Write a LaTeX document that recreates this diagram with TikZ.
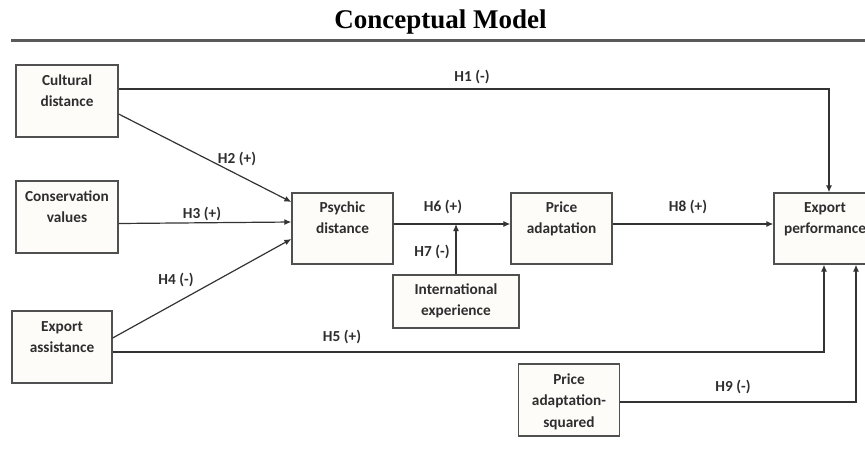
\documentclass[tikz,border=0pt]{standalone}
\usepackage{fontspec}
\setmainfont{Carlito}
\newfontfamily\titlefont{Liberation Serif}
\usetikzlibrary{arrows.meta}

\definecolor{boxline}{HTML}{505050}
\definecolor{boxfill}{HTML}{FDFCF9}
\definecolor{linkcol}{HTML}{333333}
\definecolor{inkcol}{HTML}{2E2E2E}
\definecolor{rulecol}{HTML}{5A5A5A}

\tikzset{
  varbox/.style={draw=boxline, fill=boxfill, line width=1.3pt, inner sep=0pt,
    minimum width=101pt, minimum height=71pt},
  % base anchor of a multi-line node sits on its last line
  boxtext/.style={inner sep=0pt, align=center, text=inkcol, anchor=base,
    font=\fontsize{15.3}{21.5}\selectfont\bfseries},
  hyp/.style={inner sep=1pt, text=inkcol, font=\fontsize{15.3}{18}\selectfont\bfseries},
  link/.style={draw=linkcol, line width=1.2pt, -{Latex[length=7pt,width=6pt]}},
}

\begin{document}
\begin{tikzpicture}[x=1pt, y=-1pt]
\useasboundingbox (0,0) rectangle (865,459);
\clip (0,0) rectangle (865,459);

% heading and rule
\node[anchor=base, inner sep=0pt, text=black,
      font=\titlefont\bfseries\fontsize{27}{30}\selectfont] (title) at (440.5,28) {Conceptual Model};
\draw[rulecol, line width=2.8pt] (11,40.5) -- (865,40.5);

% variables
\node[varbox, minimum width=102pt, minimum height=72pt] (cd) at (67,101) {};
\node[varbox, minimum width=102pt, minimum height=72pt] (cv) at (67,217) {};
\node[varbox, minimum width=100pt, minimum height=72pt] (ea) at (62,347) {};
\node[varbox] (pd) at (342.5,228.5) {};
\node[varbox] (pa) at (561.5,228.5) {};
\node[varbox, minimum width=102pt] (ep) at (825,228.5) {};
\node[varbox, minimum width=126pt, minimum height=53pt] (ie) at (456,301.5) {};
\node[varbox, minimum height=72pt] (ps) at (569,400) {};

\node[boxtext] (cd-t) at ([yshift=-42.5pt]cd.north) {Cultural\\distance};
\node[boxtext] (cv-t) at ([yshift=-42.5pt]cv.north) {Conservation\\values};
\node[boxtext] (ea-t) at ([yshift=-42.5pt]ea.north) {Export\\assistance};
\node[boxtext] (pd-t) at ([yshift=-41.5pt]pd.north) {Psychic\\distance};
\node[boxtext] (pa-t) at ([yshift=-41.5pt]pa.north) {Price\\adaptation};
\node[boxtext] (ep-t) at ([yshift=-41.5pt]ep.north) {Export\\performance};
\node[boxtext] (ie-t) at ([yshift=-41.5pt]ie.north) {International\\experience};
\node[boxtext] (ps-t) at ([yshift=-64pt]ps.north) {Price\\adaptation-\\squared};

% paths
\coordinate (h6s) at ([yshift=4.5pt]pd.east);
\draw[link] ([yshift=12pt]cd.east) -| ([xshift=4pt]ep.north);
\draw[link] ([yshift=-13pt]cd.east) -- ([yshift=26.5pt]pd.west);
\draw[link] ([yshift=-6.5pt]cv.east) -- ([yshift=6.5pt]pd.west);
\draw[link] ([yshift=9pt]ea.east) -- ([yshift=-10.5pt]pd.west);
\draw[link] ([yshift=-5pt]ea.east) -| ([xshift=-1pt]ep.south);
\draw[link] (h6s) -- ([yshift=4.5pt]pa.west);
\draw[link] (ie.north) -- (ie.north |- h6s);
\draw[link] ([yshift=4.5pt]pa.east) -- ([yshift=4.5pt]ep.west);
\draw[link] ([yshift=-2pt]ps.east) -| ([xshift=31pt]ep.south);

% hypothesis labels
\node[hyp] (h1) at (472,77) {H1 (-)};
\node[hyp] (h2) at (237,159) {H2 (+)};
\node[hyp] (h3) at (202,214) {H3 (+)};
\node[hyp] (h4) at (176,280) {H4 (-)};
\node[hyp] (h5) at (342,337) {H5 (+)};
\node[hyp] (h6) at (443,207) {H6 (+)};
\node[hyp] (h7) at (432,252) {H7 (-)};
\node[hyp] (h8) at (688,207) {H8 (+)};
\node[hyp] (h9) at (733,387) {H9 (-)};
\end{tikzpicture}
\end{document}
